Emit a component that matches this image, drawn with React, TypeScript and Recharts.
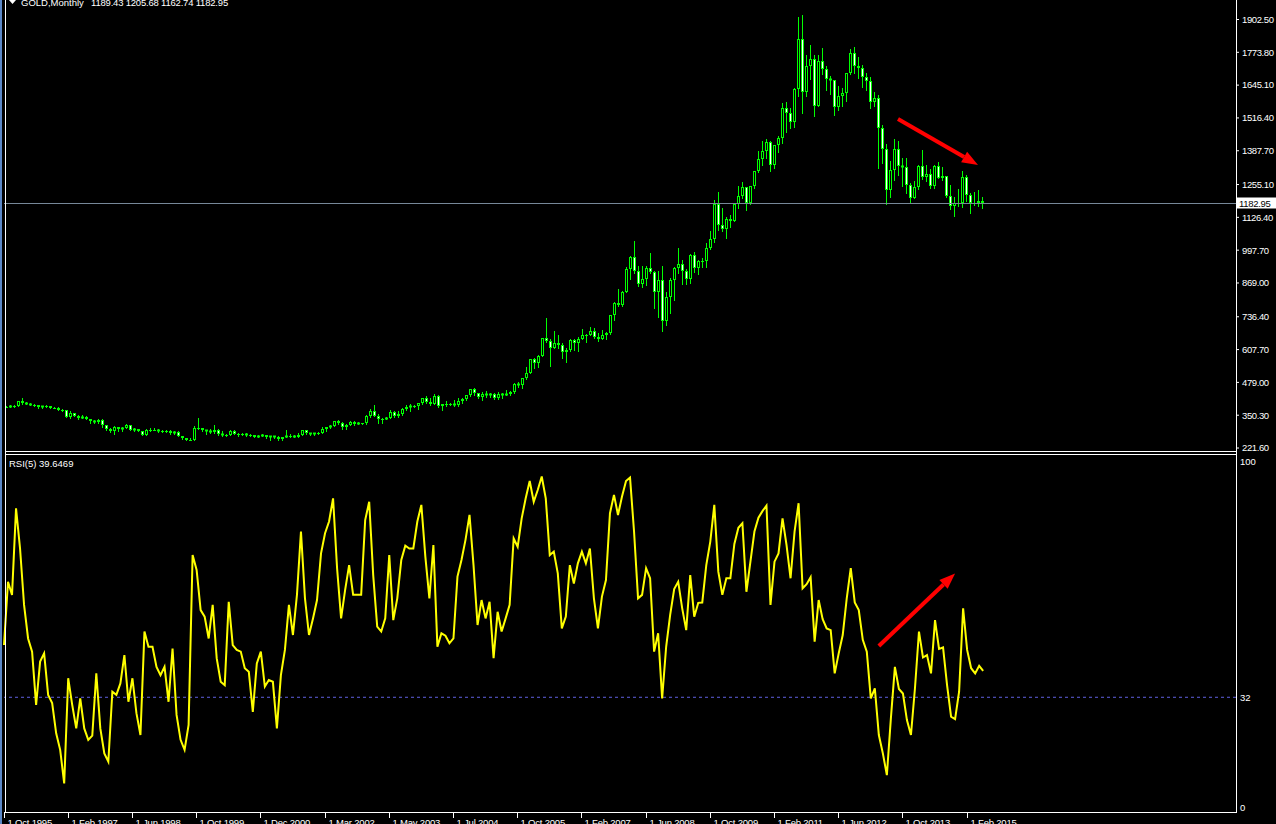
import React from 'react';
import { ComposedChart, Bar, Line, XAxis, YAxis, ReferenceLine } from 'recharts';

// GOLD monthly, Oct 1995 .. Jun 2015 (the feed has a few extra bars 2000-2005)
const opens = [
  384, 383, 387,
  387, 405, 400, 396, 392, 391, 382, 385, 386, 379, 379, 371,
  369, 345, 358, 349, 340, 345, 334, 326, 325, 332, 311, 296,
  290, 303, 297, 301, 310, 294, 296, 288, 273, 294, 292, 294,
  288, 287, 287, 280, 286, 268, 261, 255, 254, 299, 299, 292,
  290, 283, 293, 276, 274, 272, 288, 276, 277, 275, 273, 273, 264, 270,
  273, 265, 267, 266, 258, 264, 267, 270, 265, 273, 293, 279, 275,
  279, 282, 297, 303, 309, 326, 318, 304, 312, 323, 317, 318, 319,
  347, 368, 347, 334, 336, 340, 361, 346, 354, 375, 384, 386, 388, 398,
  416, 402, 396, 427, 387, 393, 395, 393, 391, 408, 415, 428, 452,
  438, 422, 435, 428, 435, 417, 435, 429, 434, 440, 473, 470, 495,
  517, 569, 556, 583, 655, 643, 614, 633, 624, 599, 605, 646,
  632, 651, 665, 663, 680, 659, 650, 665, 672, 743, 789, 783,
  834, 923, 972, 916, 864, 885, 928, 913, 834, 880, 718, 815,
  882, 928, 942, 916, 883, 979, 927, 954, 955, 1008, 1040, 1180,
  1096, 1081, 1118, 1113, 1179, 1212, 1244, 1181, 1248, 1307, 1357, 1385,
  1421, 1333, 1410, 1439, 1556, 1536, 1500, 1628, 1826, 1620, 1722, 1746,
  1565, 1738, 1710, 1669, 1664, 1560, 1604, 1614, 1691, 1773, 1719, 1713,
  1675, 1663, 1578, 1595, 1476, 1393, 1234, 1313, 1395, 1327, 1323, 1253,
  1202, 1244, 1326, 1284, 1296, 1250, 1327, 1282, 1287, 1210, 1171, 1182,
  1184, 1283, 1213, 1183, 1183, 1189.43,
];

const highs = [
  387, 389, 390,
  408, 416, 402, 398, 394, 392, 388, 389, 387, 384, 383, 374,
  369, 366, 358, 350, 350, 346, 335, 330, 337, 335, 313, 299,
  308, 304, 304, 315, 311, 300, 297, 290, 298, 302, 300, 296,
  293, 291, 291, 289, 290, 269, 262, 259, 308, 339, 302, 293,
  295, 313, 298, 289, 278, 294, 291, 281, 279, 280, 276, 274, 271, 276,
  273, 268, 268, 269, 266, 293, 275, 272, 280, 294, 294, 280, 282,
  284, 304, 304, 312, 328, 332, 323, 316, 327, 327, 322, 320, 350,
  373, 390, 354, 340, 345, 371, 367, 367, 377, 391, 395, 392, 400, 417,
  427, 419, 432, 429, 396, 406, 398, 410, 418, 419, 431, 455, 457,
  438, 443, 445, 438, 436, 442, 437, 448, 445, 475, 481, 497, 541,
  572, 575, 587, 655, 732, 649, 679, 663, 633, 612, 650, 650,
  656, 690, 669, 695, 691, 672, 684, 676, 744, 795, 845, 838,
  933, 974, 1033, 937, 935, 934, 988, 917, 917, 935, 835, 887,
  931, 1006, 961, 922, 981, 989, 960, 966, 1025, 1072, 1195, 1227,
  1162, 1127, 1135, 1183, 1249, 1265, 1245, 1251, 1310, 1388, 1424, 1432,
  1424, 1412, 1447, 1576, 1577, 1557, 1632, 1913, 1921, 1764, 1803, 1764,
  1764, 1791, 1719, 1679, 1667, 1641, 1632, 1692, 1788, 1796, 1755, 1723,
  1694, 1676, 1617, 1605, 1488, 1416, 1348, 1434, 1424, 1361, 1361, 1261,
  1270, 1332, 1392, 1331, 1315, 1332, 1345, 1322, 1290, 1255, 1207, 1238,
  1307, 1294, 1220, 1224, 1232, 1205.68,
];

const lows = [
  381, 382, 384,
  386, 396, 394, 389, 388, 380, 380, 384, 378, 378, 369, 366,
  344, 340, 346, 336, 338, 334, 318, 318, 318, 306, 294, 283,
  277, 290, 290, 299, 292, 288, 287, 272, 273, 289, 291, 285,
  284, 283, 278, 278, 267, 256, 253, 252, 253, 295, 288, 277,
  280, 282, 274, 270, 268, 271, 275, 270, 272, 269, 270, 263, 263, 267,
  262, 255, 262, 255, 255, 263, 265, 264, 265, 271, 277, 272, 271,
  277, 281, 289, 299, 307, 314, 297, 298, 310, 312, 314, 316, 316,
  343, 346, 320, 321, 334, 338, 342, 342, 350, 370, 367, 382, 375, 396,
  398, 392, 393, 381, 372, 387, 390, 387, 386, 397, 411, 427, 430,
  416, 411, 423, 420, 414, 415, 418, 428, 430, 438, 462, 456, 491,
  514, 537, 538, 581, 637, 543, 612, 612, 573, 560, 604, 608,
  603, 650, 636, 663, 652, 642, 650, 651, 668, 724, 777, 780,
  833, 885, 910, 856, 853, 860, 910, 772, 735, 681, 705, 752,
  801, 908, 865, 866, 868, 913, 905, 933, 930, 1004, 1030, 1076,
  1072, 1044, 1087, 1113, 1163, 1202, 1155, 1179, 1242, 1306, 1330, 1360,
  1308, 1319, 1381, 1417, 1462, 1478, 1479, 1604, 1535, 1604, 1670, 1523,
  1563, 1689, 1627, 1612, 1527, 1547, 1564, 1581, 1687, 1692, 1672, 1636,
  1627, 1555, 1562, 1321, 1338, 1180, 1208, 1271, 1292, 1251, 1221, 1182,
  1202, 1238, 1277, 1268, 1241, 1240, 1280, 1273, 1208, 1160, 1131, 1170,
  1167, 1191, 1142, 1175, 1170, 1162.74,
];

const closes = [
  383, 387, 387,
  405, 400, 396, 392, 391, 382, 385, 386, 379, 379, 371, 369,
  345, 358, 349, 340, 345, 334, 326, 325, 332, 311, 296, 290,
  303, 297, 301, 310, 294, 296, 288, 273, 294, 292, 294, 288,
  287, 287, 280, 286, 268, 261, 255, 254, 299, 299, 292, 290,
  283, 293, 276, 274, 272, 288, 276, 277, 275, 273, 273, 264, 270, 273,
  265, 267, 266, 258, 264, 267, 270, 265, 273, 293, 279, 275, 279,
  282, 297, 303, 309, 326, 318, 304, 312, 323, 317, 318, 319, 347,
  368, 347, 334, 336, 340, 361, 346, 354, 375, 384, 386, 388, 398, 416,
  402, 396, 427, 387, 393, 395, 393, 391, 408, 415, 428, 452, 438,
  422, 435, 428, 435, 417, 435, 429, 434, 440, 473, 470, 495, 517,
  569, 556, 583, 655, 643, 614, 633, 624, 599, 605, 646, 632,
  651, 665, 663, 680, 659, 650, 665, 672, 743, 789, 783, 834,
  923, 972, 916, 864, 885, 928, 913, 834, 880, 718, 815, 882,
  928, 942, 916, 883, 979, 927, 954, 955, 1008, 1040, 1180, 1096,
  1081, 1118, 1113, 1179, 1212, 1244, 1181, 1248, 1307, 1357, 1385, 1421,
  1333, 1410, 1439, 1556, 1536, 1500, 1628, 1826, 1620, 1722, 1746, 1565,
  1738, 1710, 1669, 1664, 1560, 1604, 1614, 1691, 1773, 1719, 1713, 1675,
  1663, 1578, 1595, 1476, 1393, 1234, 1313, 1395, 1327, 1323, 1253, 1202,
  1244, 1326, 1284, 1296, 1250, 1327, 1282, 1287, 1210, 1171, 1182, 1184,
  1283, 1213, 1183, 1183, 1190, 1182.95,
];

// RSI(5), one value per bar
const rsi = [
  47.1, 65.4, 61.6, 86.6, 75.0, 58.7, 49.0, 45.2, 29.8, 42.3,
  44.7, 32.7, 30.3, 21.6, 16.8, 7.1, 37.5, 29.8, 23.0, 31.7,
  23.0, 19.7, 20.9, 38.9, 23.0, 15.8, 13.4, 33.6, 32.7, 36.0,
  44.2, 30.7, 37.5, 27.4, 21.1, 51.0, 46.6, 46.6, 40.8, 38.4,
  40.8, 30.7, 46.1, 26.9, 19.7, 16.8, 24.0, 73.1, 68.8, 57.2,
  55.3, 49.0, 58.7, 43.3, 36.5, 35.5, 59.6, 47.1, 45.7, 45.2,
  40.4, 39.4, 27.8, 41.8, 45.2, 35.1, 37.0, 36.5, 23.0, 38.4,
  45.7, 58.7, 50.0, 61.6, 79.9, 60.6, 50.0, 54.8, 60.1, 73.6,
  79.4, 82.8, 89.5, 69.3, 54.8, 63.0, 70.2, 61.6, 61.6, 61.6,
  83.2, 88.5, 67.3, 52.4, 51.0, 54.8, 73.1, 54.3, 60.6, 71.7,
  75.8, 75.0, 75.0, 82.8, 87.6, 72.6, 60.6, 76.0, 46.6, 50.5,
  49.8, 47.6, 49.0, 66.9, 71.7, 77.5, 84.7, 70.2, 52.9, 60.1,
  54.8, 59.6, 43.3, 56.7, 51.0, 54.8, 58.7, 77.9, 75.5, 83.7,
  89.5, 94.5, 88.5, 91.9, 95.8, 89.5, 73.1, 74.1, 67.8, 51.9,
  55.3, 70.2, 64.9, 70.7, 74.1, 70.7, 75.0, 60.6, 51.9, 61.1,
  65.9, 85.2, 90.5, 84.7, 90.0, 94.5, 95.5, 79.9, 60.6, 61.6,
  69.3, 66.4, 45.2, 50.5, 31.7, 46.6, 55.8, 63.3, 65.4, 57.7,
  51.4, 67.3, 55.3, 59.3, 59.4, 70.2, 77.0, 87.6, 68.3, 61.6,
  66.4, 66.4, 76.3, 81.0, 82.3, 62.5, 71.2, 79.9, 83.9, 85.8,
  87.4, 58.7, 71.2, 73.6, 83.7, 76.0, 66.4, 79.9, 88.1, 63.5,
  64.7, 66.7, 48.1, 60.1, 54.6, 51.9, 51.4, 38.9, 44.7, 50.0,
  60.6, 69.3, 59.4, 57.2, 48.6, 45.2, 31.7, 34.6, 21.1, 15.8,
  9.5, 25.9, 40.8, 34.4, 33.1, 25.4, 21.1, 34.6, 51.0, 43.5,
  44.2, 38.9, 54.3, 46.0, 46.4, 35.5, 26.4, 25.7, 33.6, 57.7,
  45.7, 40.4, 38.9, 41.1, 39.6469,
];

const tickBars = [0, 16, 32, 48, 64, 80, 96, 112, 128, 144, 160, 176, 192, 208, 224, 240];
const tickLabels = [
  '1 Oct 1995', '1 Feb 1997', '1 Jun 1998', '1 Oct 1999', '1 Dec 2000', '1 Mar 2002',
  '1 May 2003', '1 Jul 2004', '1 Oct 2005', '1 Feb 2007', '1 Jun 2008', '1 Oct 2009',
  '1 Feb 2011', '1 Jun 2012', '1 Oct 2013', '1 Feb 2015',
];
const priceTicks = [1902.5, 1773.8, 1645.1, 1516.4, 1387.7, 1255.1, 1126.4, 997.7, 869, 736.4, 607.7, 479, 350.3, 221.6];
const rsiTicks = [0, 32, 100];
const lastPrice = 1182.95;
const rsiLevel = 32;

// trend arrows: [bar, value] start and tip
const priceArrow = [{ x: 223, y: 1512 }, { x: 243, y: 1332 }];
const rsiArrow = [{ x: 218, y: 46.8 }, { x: 237, y: 67.8 }];

const W = 1276;
const SLOTS = 308; // empty room to the right of the last bar, like the terminal shift
const PRICE_H = 451; // price panel border
const PRICE_SVG_H = 456; // a little taller so the lowest axis label is not clipped
const RSI_TOP = 454;
const RSI_H = 370;
const PLOT_BOTTOM = 812;

const FONT = '"Liberation Sans", Arial, sans-serif';
const LIME = '#00ff00';

const data = Array.from({ length: SLOTS }, (_, i) =>
  i < closes.length
    ? { i, o: opens[i], h: highs[i], l: lows[i], c: closes[i], range: [lows[i], highs[i]], rsi: rsi[i] }
    : { i }
);

const Candle = (props: any) => {
  const { x, y, width, height, payload } = props;
  if (!payload || payload.o == null || !isFinite(y) || !isFinite(height)) return <g />;
  const { o, h, l, c } = payload;
  const top = Math.min(y, y + height);
  const span = Math.abs(height);
  const py = (v: number) => (h === l ? top : top + ((h - v) / (h - l)) * span);
  const wx = Math.floor(x + width / 2) + 0.5;
  const yh = Math.round(py(h));
  const yl = Math.round(py(l));
  const b1 = Math.round(py(Math.max(o, c)));
  const b2 = Math.round(py(Math.min(o, c)));
  return (
    <g>
      <line x1={wx} y1={yh} x2={wx} y2={yl + 1} stroke={LIME} strokeWidth={1} />
      {b2 - b1 >= 2 ? (
        <rect x={wx - 1} y={b1 + 0.5} width={2} height={b2 - b1 - 1} fill={c >= o ? '#000' : '#fff'} stroke={LIME} strokeWidth={1} />
      ) : (
        <line x1={wx - 1.5} y1={b1 + 0.5} x2={wx + 1.5} y2={b1 + 0.5} stroke={LIME} strokeWidth={b2 - b1 + 1} />
      )}
    </g>
  );
};

const Arrow = (props: any) => {
  const { x1, y1, x2, y2 } = props;
  if (![x1, y1, x2, y2].every((v) => isFinite(v))) return <g />;
  const ang = Math.atan2(y2 - y1, x2 - x1);
  const len = 16;
  const half = 6;
  const bx = x2 - len * Math.cos(ang);
  const by = y2 - len * Math.sin(ang);
  const nx = -Math.sin(ang) * half;
  const ny = Math.cos(ang) * half;
  return (
    <g>
      <line x1={x1} y1={y1} x2={bx} y2={by} stroke="#ff0000" strokeWidth={4} />
      <polygon points={`${x2},${y2} ${bx + nx},${by + ny} ${bx - nx},${by - ny}`} fill="#ff0000" />
    </g>
  );
};

const PriceLine = (props: any) => {
  const { x1, y1, x2 } = props;
  if (!isFinite(y1)) return <g />;
  const yy = Math.round(y1) + 0.5;
  const left = Math.min(x1, x2);
  const right = Math.max(x1, x2);
  return (
    <g>
      <line x1={left} y1={yy} x2={right} y2={yy} stroke="#778899" strokeWidth={1} />
      <rect x={right + 1} y={yy - 6} width={39} height={11} fill="#fff" />
      <text x={right + 3} y={yy + 3.5} fill="#000" fontSize={9.5} fontFamily={FONT} letterSpacing={-0.3}>
        {lastPrice.toFixed(2)}
      </text>
    </g>
  );
};

const DateTick = (props: any) => {
  const { x, payload } = props;
  const k = tickBars.indexOf(Number(payload.value));
  if (k < 0) return <g />;
  const px = Math.floor(x) + 0.5;
  const base = PLOT_BOTTOM - RSI_TOP;
  return (
    <g>
      <line x1={px} y1={base} x2={px} y2={base + 6} stroke="#fff" strokeWidth={1} />
      <text x={px + 3} y={base + 14} fill="#fff" fontSize={9.5} fontFamily={FONT} letterSpacing={-0.2}>
        {tickLabels[k]}
      </text>
    </g>
  );
};

export default function App() {
  return (
    <div style={{ position: 'fixed', left: 0, top: 0, width: W, height: 824, background: '#000', overflow: 'hidden' }}>
      <div style={{ position: 'absolute', left: 0, top: 0 }}>
        <ComposedChart width={W} height={PRICE_SVG_H} data={data} margin={{ top: 0, right: 0, bottom: 0, left: 4 }} barCategoryGap={0} barGap={0}>
          <XAxis dataKey="i" type="category" hide />
          <YAxis
            orientation="right"
            width={40}
            type="number"
            domain={[190.3, 1979]}
            allowDataOverflow
            ticks={priceTicks}
            interval={0}
            tickFormatter={(v: number) => v.toFixed(2)}
            axisLine={false}
            tickLine={{ stroke: '#fff' }}
            tickSize={3}
            tickMargin={3}
            tick={{ fill: '#fff', fontSize: 9.5, fontFamily: FONT, letterSpacing: -0.4 }}
          />
          <Bar dataKey="range" shape={Candle} isAnimationActive={false} />
          <ReferenceLine y={lastPrice} shape={PriceLine} />
          <ReferenceLine segment={priceArrow} shape={Arrow} />
        </ComposedChart>
      </div>
      <div style={{ position: 'absolute', left: 0, top: RSI_TOP }}>
        <ComposedChart width={W} height={RSI_H} data={data} margin={{ top: 0, right: 0, bottom: 0, left: 4 }} barCategoryGap={0}>
          <XAxis
            dataKey="i"
            type="category"
            height={RSI_H - (PLOT_BOTTOM - RSI_TOP)}
            ticks={tickBars}
            interval={0}
            axisLine={false}
            tickLine={false}
            tick={DateTick}
          />
          <YAxis
            orientation="right"
            width={40}
            type="number"
            domain={[0, 100]}
            ticks={rsiTicks}
            interval={0}
            padding={{ top: 8, bottom: 4 }}
            axisLine={false}
            tickLine={false}
            tickSize={2}
            tickMargin={2}
            tick={{ fill: '#fff', fontSize: 9.5, fontFamily: FONT }}
          />
          <ReferenceLine y={rsiLevel} stroke="#6060e0" strokeDasharray="3 3" />
          <Line dataKey="rsi" type="linear" stroke="#ffff00" strokeWidth={2} dot={false} activeDot={false} isAnimationActive={false} />
          <ReferenceLine segment={rsiArrow} shape={Arrow} />
        </ComposedChart>
      </div>
      <svg width={W} height={824} style={{ position: 'absolute', left: 0, top: 0, pointerEvents: 'none' }}>
        <rect x={0} y={0} width={2} height={824} fill="#5b87c6" />
        <line x1={5.5} y1={0} x2={5.5} y2={PLOT_BOTTOM + 1} stroke="#fff" />
        <line x1={1236.5} y1={0} x2={1236.5} y2={PLOT_BOTTOM + 1} stroke="#fff" />
        <line x1={5} y1={PRICE_H + 0.5} x2={1237} y2={PRICE_H + 0.5} stroke="#fff" />
        <line x1={5} y1={RSI_TOP + 0.5} x2={1237} y2={RSI_TOP + 0.5} stroke="#fff" />
        <line x1={5} y1={PLOT_BOTTOM + 0.5} x2={1237} y2={PLOT_BOTTOM + 0.5} stroke="#fff" />
        <polygon points="9,0 16,0 12.5,4" fill="#fff" />
        <text x={21} y={5.5} fill="#fff" fontSize={9.5} fontFamily={FONT}>GOLD,Monthly</text>
        <text x={91} y={5.5} fill="#fff" fontSize={9.5} fontFamily={FONT} letterSpacing={-0.2}>
          1189.43 1205.68 1162.74 1182.95
        </text>
        <text x={9} y={467} fill="#fff" fontSize={9.5} fontFamily={FONT}>RSI(5) 39.6469</text>
      </svg>
    </div>
  );
}
